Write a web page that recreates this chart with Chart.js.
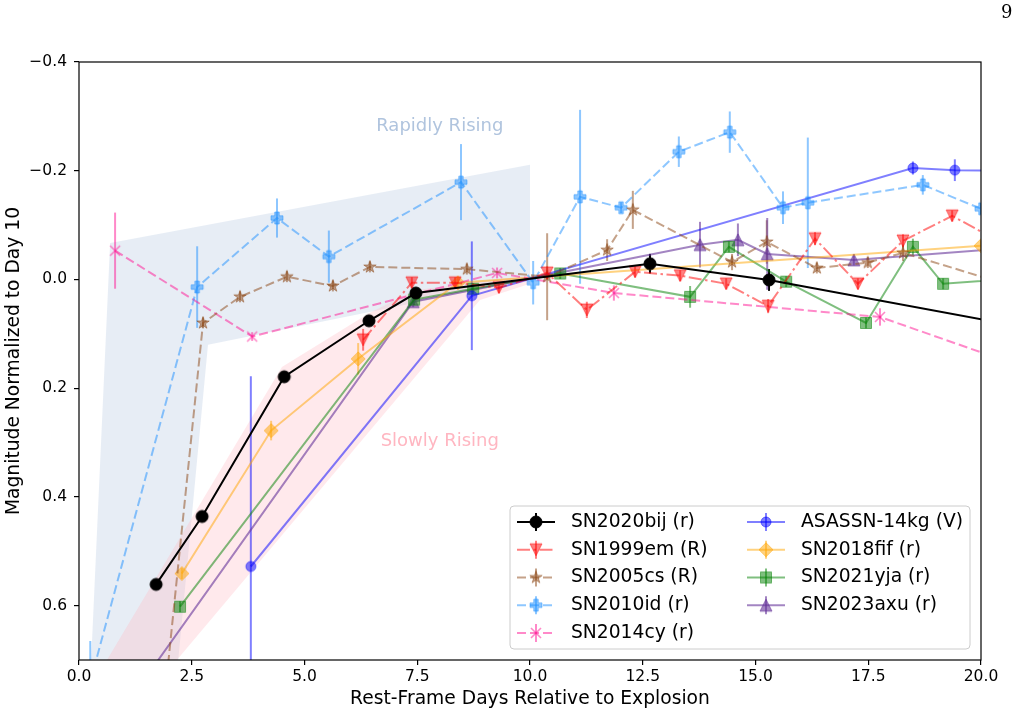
<!DOCTYPE html>
<html>
<head>
<meta charset="utf-8">
<script src="https://cdn.jsdelivr.net/npm/chart.js@4.4.1/dist/chart.umd.min.js"></script>
<style>
html, body { margin: 0; padding: 0; background: #fff; }
#wrap { position: relative; width: 1019px; height: 716px; }
#page { position: absolute; left: 1001px; top: 1px; font-family: 'DejaVu Serif', serif; font-size: 18px; }
</style>
</head>
<body>
<div id="wrap"><canvas id="lc"></canvas><div id="page">9</div></div>
<script>
// light curves, magnitude relative to day 10
const bijDays = [1.71, 2.73, 4.55, 6.43, 7.47, 12.66, 15.30, 22.0];
const bijMag  = [0.561, 0.436, 0.179, 0.076, 0.025, -0.029, 0.001, 0.104];
const bijErr  = [0.006, 0.009, 0.006, 0.006, 0.005, 0.018, 0.02, 0.005];

const em99Days = [6.30, 7.38, 8.34, 9.31, 10.38, 11.26, 12.33, 13.33, 14.35, 15.28, 16.32, 17.27, 18.27, 19.36, 21.0];
const em99Mag  = [0.111, 0.006, 0.006, 0.015, -0.012, 0.056, -0.014, -0.007, 0.008, 0.049, -0.075, 0.008, -0.071, -0.117, -0.043];
const em99Err  = [0.02, 0.01, 0.01, 0.01, 0.012, 0.015, 0.01, 0.01, 0.01, 0.013, 0.012, 0.01, 0.012, 0.01, 0.01];

const cs05Days = [1.8, 2.75, 3.57, 4.61, 5.63, 6.45, 8.60, 10.38, 11.71, 12.28, 14.48, 15.25, 16.36, 17.49, 18.27, 21.0];
const cs05Mag  = [0.85, 0.080, 0.032, -0.005, 0.012, -0.023, -0.019, -0.005, -0.054, -0.128, -0.032, -0.069, -0.021, -0.031, -0.049, 0.020];
const cs05Err  = [0.02, 0.01, 0.01, 0.01, 0.01, 0.01, 0.01, 0.08, 0.02, 0.035, 0.015, 0.04, 0.01, 0.01, 0.015, 0.01];

const id10Days = [0.25, 2.62, 4.39, 5.54, 8.47, 10.07, 11.11, 12.02, 13.30, 14.43, 15.61, 16.16, 18.71, 20.0];
const id10Mag  = [0.74, 0.014, -0.113, -0.042, -0.179, 0.006, -0.152, -0.132, -0.235, -0.271, -0.132, -0.141, -0.174, -0.130];
const id10Err  = [0.075, 0.075, 0.036, 0.048, 0.07, 0.04, 0.16, 0.01, 0.028, 0.038, 0.03, 0.12, 0.018, 0.01];

const cy14Days = [0.80, 3.84, 9.27, 11.86, 17.76, 21.0];
const cy14Mag  = [-0.053, 0.105, -0.012, 0.025, 0.069, 0.163];
const cy14Err  = [0.07, 0.008, 0.01, 0.014, 0.016, 0.01];

const kgDays = [3.81, 8.71, 18.49, 19.42, 21.0];
const kgMag  = [0.528, 0.030, -0.205, -0.201, -0.200];
const kgErr  = [0.35, 0.1, 0.012, 0.02, 0.01];

const fif18Days = [2.28, 4.26, 6.19, 8.40, 20.0];
const fif18Mag  = [0.541, 0.278, 0.146, 0.006, -0.062];
const fif18Err  = [0.01, 0.018, 0.029, 0.01, 0.01];

const yja21Days = [2.24, 7.43, 8.74, 10.67, 13.55, 14.41, 15.68, 17.45, 18.49, 19.16, 21.0];
const yja21Mag  = [0.602, 0.037, 0.017, -0.011, 0.032, -0.060, 0.004, 0.080, -0.060, 0.008, -0.003];
const yja21Err  = [0.01, 0.01, 0.01, 0.01, 0.02, 0.01, 0.01, 0.01, 0.015, 0.01, 0.01];

const axu23Days = [1.5, 7.41, 13.77, 14.61, 15.26, 17.18, 21.0];
const axu23Mag  = [0.73, 0.041, -0.064, -0.073, -0.047, -0.036, -0.060];
const axu23Err  = [0.01, 0.01, 0.042, 0.03, 0.066, 0.01, 0.01];

// shaded envelopes
const rapidDays = [0.69, 10.0, 10.0, 2.86, 2.2, 0.27];
const rapidMag  = [-0.067, -0.211, 0.0, 0.12, 0.70, 0.70];
const slowDays  = [0.62, 4.50, 6.43, 7.45, 10.0, 10.0, 8.89, 2.17];
const slowMag   = [0.70, 0.161, 0.062, 0.02, -0.008, 0.008, 0.038, 0.70];

const xTicks = [0, 2.5, 5, 7.5, 10, 12.5, 15, 17.5, 20];
const yTicks = [-0.4, -0.2, 0, 0.2, 0.4, 0.6];

const FONT = 'DejaVu Sans';
const DASHED = [9, 4];
const DASHDOT = [13, 3.5, 2.5, 3.5];

function markerCanvas(shape, color) {
  const s = 20;
  const c = document.createElement('canvas');
  c.width = s; c.height = s;
  const g = c.getContext('2d');
  g.translate(s / 2, s / 2);
  g.fillStyle = color; g.strokeStyle = color; g.lineWidth = 1;
  g.beginPath();
  if (shape === 'o') g.arc(0, 0, 6, 0, 2 * Math.PI);
  else if (shape === 'o5') g.arc(0, 0, 5, 0, 2 * Math.PI);
  else if (shape === 'v') { g.moveTo(-6, -6); g.lineTo(6, -6); g.lineTo(0, 6); g.closePath(); }
  else if (shape === '^') { g.moveTo(-6, 6); g.lineTo(6, 6); g.lineTo(0, -6); g.closePath(); }
  else if (shape === 's') g.rect(-5.5, -5.5, 11, 11);
  else if (shape === 'D') { g.moveTo(0, -7); g.lineTo(7, 0); g.lineTo(0, 7); g.lineTo(-7, 0); g.closePath(); }
  else if (shape === '*') {
    for (let i = 0; i < 10; i++) {
      const r = i % 2 ? 2.5 : 6.5, a = -Math.PI / 2 + i * Math.PI / 5;
      g.lineTo(r * Math.cos(a), r * Math.sin(a));
    }
    g.closePath();
  } else if (shape === 'P') {
    const a = 6, b = 2.2;
    [[-b,-a],[b,-a],[b,-b],[a,-b],[a,b],[b,b],[b,a],[-b,a],[-b,b],[-a,b],[-a,-b],[-b,-b]].forEach(p => g.lineTo(p[0], p[1]));
    g.closePath();
  }
  if (shape === 'x') {
    g.lineWidth = 1.6;
    g.moveTo(-5, -5); g.lineTo(5, 5); g.moveTo(5, -5); g.lineTo(-5, 5);
    g.stroke();
  } else { g.fill(); g.stroke(); }
  return c;
}

function series(label, days, mag, err, color, marker, dash) {
  return {
    label: label,
    data: days.map((d, i) => ({x: d, y: mag[i]})),
    errors: err,
    showLine: true,
    borderColor: color,
    backgroundColor: color,
    borderWidth: 2,
    borderDash: dash,
    pointStyle: markerCanvas(marker, color),
    pointRadius: 6,
    pointHoverRadius: 6
  };
}

const datasets = [
  series('SN2020bij (r)', bijDays, bijMag, bijErr, '#000000', 'o', []),
  series('SN1999em (R)', em99Days, em99Mag, em99Err, 'rgba(255,0,0,0.5)', 'v', DASHDOT),
  series('SN2005cs (R)', cs05Days, cs05Mag, cs05Err, 'rgba(139,69,19,0.5)', '*', DASHED),
  series('SN2010id (r)', id10Days, id10Mag, id10Err, 'rgba(30,144,255,0.5)', 'P', DASHED),
  series('SN2014cy (r)', cy14Days, cy14Mag, cy14Err, 'rgba(255,20,147,0.5)', 'x', DASHED),
  series('ASASSN-14kg (V)', kgDays, kgMag, kgErr, 'rgba(0,0,255,0.5)', 'o5', []),
  series('SN2018fif (r)', fif18Days, fif18Mag, fif18Err, 'rgba(255,165,0,0.5)', 'D', []),
  series('SN2021yja (r)', yja21Days, yja21Mag, yja21Err, 'rgba(0,128,0,0.5)', 's', []),
  series('SN2023axu (r)', axu23Days, axu23Mag, axu23Err, 'rgba(102,51,153,0.6)', '^', [])
];

const overlay = {
  id: 'overlay',
  beforeDatasetsDraw(chart) {
    const {ctx, chartArea: a, scales: {x, y}} = chart;
    ctx.save();
    ctx.beginPath(); ctx.rect(a.left, a.top, a.width, a.height); ctx.clip();
    const poly = (xs, ys, fill) => {
      ctx.beginPath();
      xs.forEach((v, i) => {
        const px = x.getPixelForValue(v), py = y.getPixelForValue(ys[i]);
        if (i) ctx.lineTo(px, py); else ctx.moveTo(px, py);
      });
      ctx.closePath();
      ctx.fillStyle = fill; ctx.fill();
    };
    poly(rapidDays, rapidMag, 'rgba(176,196,222,0.3)');
    poly(slowDays, slowMag, 'rgba(255,182,193,0.3)');

    ctx.font = '18px "' + FONT + '"';
    ctx.textAlign = 'center'; ctx.textBaseline = 'middle';
    ctx.fillStyle = 'rgb(176,196,222)';
    ctx.fillText('Rapidly Rising', x.getPixelForValue(8.0), y.getPixelForValue(-0.282));
    ctx.fillStyle = 'rgb(255,182,193)';
    ctx.fillText('Slowly Rising', x.getPixelForValue(8.0), y.getPixelForValue(0.297));

    // vertical error bars
    ctx.lineWidth = 2;
    chart.data.datasets.forEach(ds => {
      ctx.strokeStyle = ds.borderColor;
      ds.data.forEach((p, i) => {
        const e = ds.errors[i];
        const px = x.getPixelForValue(p.x);
        ctx.beginPath();
        ctx.moveTo(px, y.getPixelForValue(p.y - e));
        ctx.lineTo(px, y.getPixelForValue(p.y + e));
        ctx.stroke();
      });
    });
    ctx.restore();
  },
  afterDraw(chart) {
    const {ctx, chartArea: a} = chart;
    ctx.save();
    ctx.strokeStyle = '#000'; ctx.lineWidth = 1.2;
    ctx.strokeRect(a.left, a.top, a.width, a.height);

    // legend, two columns
    const bx = a.right - 471, by = a.bottom - 154, bw = 460, bh = 143;
    ctx.beginPath();
    ctx.roundRect(bx, by, bw, bh, 4);
    ctx.fillStyle = 'rgba(255,255,255,0.8)'; ctx.fill();
    ctx.strokeStyle = '#cccccc'; ctx.lineWidth = 1; ctx.stroke();
    ctx.font = '18.7px "' + FONT + '"';
    ctx.textAlign = 'left'; ctx.textBaseline = 'middle';
    chart.data.datasets.forEach((ds, i) => {
      const col = i < 5 ? 0 : 1, row = i < 5 ? i : i - 5;
      const lx = bx + 7 + col * 230, ly = by + 16 + row * 27.75;
      ctx.strokeStyle = ds.borderColor; ctx.lineWidth = 2;
      ctx.setLineDash(ds.borderDash);
      ctx.beginPath(); ctx.moveTo(lx, ly); ctx.lineTo(lx + 38, ly); ctx.stroke();
      ctx.setLineDash([]);
      ctx.beginPath(); ctx.moveTo(lx + 19, ly - 9); ctx.lineTo(lx + 19, ly + 9); ctx.stroke();
      const m = ds.pointStyle;
      ctx.drawImage(m, lx + 19 - m.width / 2, ly - m.height / 2);
      ctx.fillStyle = '#000';
      ctx.fillText(ds.label, lx + 54, ly);
    });
    ctx.restore();
  }
};

const tickFont = {family: FONT, size: 15.5};
const titleFont = {family: FONT, size: 18.7};

new Chart(document.getElementById('lc'), {
  type: 'scatter',
  data: {datasets: datasets},
  options: {
    responsive: true,
    maintainAspectRatio: false,
    animation: false,
    events: [],
    layout: {padding: {left: 0, right: 38, top: 62, bottom: 0}},
    plugins: {legend: {display: false}, tooltip: {enabled: false}},
    scales: {
      x: {
        type: 'linear',
        min: 0, max: 20,
        afterBuildTicks: s => { s.ticks = xTicks.map(v => ({value: v})); },
        afterFit: s => { s.height = 56; },
        ticks: {font: tickFont, color: '#000', padding: 3, maxRotation: 0,
                callback: v => v.toFixed(1)},
        grid: {drawOnChartArea: false, drawTicks: true, tickLength: 5, color: '#000', lineWidth: 1.2},
        border: {display: false},
        title: {display: true, text: 'Rest-Frame Days Relative to Explosion', font: titleFont,
                color: '#000', padding: {top: 0, bottom: 6}}
      },
      y: {
        type: 'linear',
        reverse: true,
        min: -0.4, max: 0.7,
        afterBuildTicks: s => { s.ticks = yTicks.map(v => ({value: v})); },
        afterFit: s => { s.width = 79; },
        ticks: {font: tickFont, color: '#000', padding: 7,
                callback: v => (Math.abs(v) < 1e-9 ? 0 : v).toFixed(1).replace('-', '\u2212')},
        grid: {drawOnChartArea: false, drawTicks: true, tickLength: 5, color: '#000', lineWidth: 1.2},
        border: {display: false},
        title: {display: true, text: 'Magnitude Normalized to Day 10', font: titleFont,
                color: '#000', padding: {top: 3, bottom: 0}}
      }
    }
  },
  plugins: [overlay]
});
</script>
</body>
</html>
